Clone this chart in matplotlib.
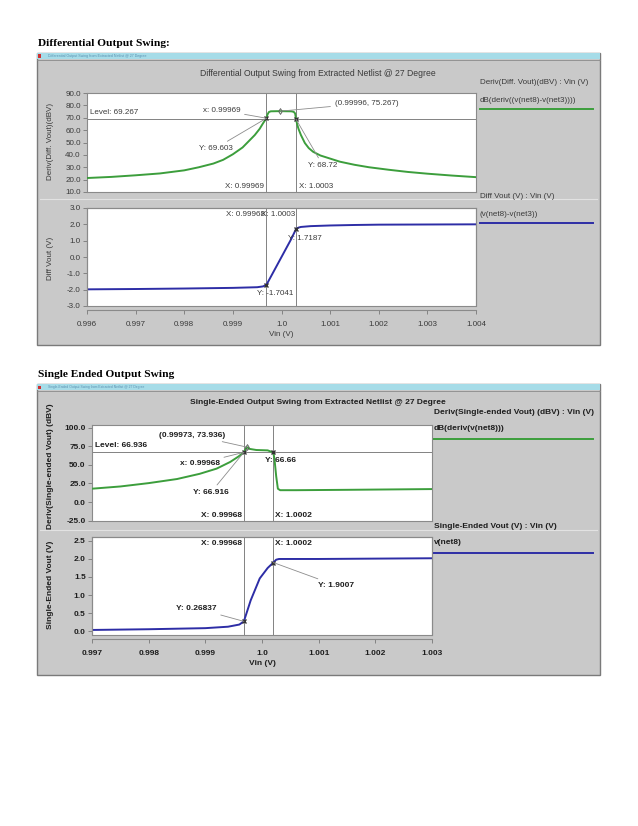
import matplotlib
matplotlib.use('Agg')
import matplotlib.pyplot as plt
from matplotlib.patches import Rectangle
from matplotlib.lines import Line2D

# ---------------- data ----------------
# Window 1: differential output swing
diff_db_x = [0.9960, 0.9965, 0.9970, 0.9975, 0.9980, 0.9983, 0.9986, 0.9988, 0.9990, 0.9992,
             0.9993, 0.99945, 0.99955, 0.99962, 0.99967, 0.99969, 0.99971, 0.99974, 0.99978,
             0.9999, 1.0000, 1.0002, 1.00025, 1.00028, 1.0003, 1.00032, 1.00035, 1.0004,
             1.00048, 1.00056, 1.00065, 1.0008, 1.0010, 1.0012, 1.0015, 1.0018, 1.0022,
             1.0026, 1.0030, 1.0035, 1.0040]
diff_db_y = [21.3, 22.2, 23.5, 25.0, 27.5, 30.0, 33.0, 36.0, 40.5, 46.0,
             50.0, 56.0, 61.0, 65.5, 68.5, 69.6, 72.5, 74.6, 75.2,
             75.3, 75.3, 75.2, 74.8, 73.5, 68.7, 65.0, 61.0, 56.0,
             49.6, 45.5, 42.5, 39.5, 37.0, 34.5, 32.0, 30.0, 28.0,
             26.2, 24.8, 23.3, 22.0]
diff_v_x = [0.9960, 0.9970, 0.9980, 0.9990, 0.9995, 0.99962, 0.99969, 0.9998, 1.0000,
            1.0002, 1.0003, 1.00035, 1.0004, 1.0006, 1.0010, 1.0015, 1.0020, 1.0030, 1.0040]
diff_v_y = [-1.98, -1.96, -1.93, -1.89, -1.85, -1.80, -1.704, -1.10, 0.00,
            1.10, 1.7187, 1.80, 1.84, 1.89, 1.93, 1.96, 1.98, 1.99, 2.00]
diff_xticks = [0.996, 0.997, 0.998, 0.999, 1.0, 1.001, 1.002, 1.003, 1.004]
diff_xticklabels = ['0.996', '0.997', '0.998', '0.999', '1.0', '1.001', '1.002', '1.003', '1.004']
diff_db_yticks = [10, 20, 30, 40, 50, 60, 70, 80, 90]
diff_v_yticks = [-3, -2, -1, 0, 1, 2, 3]
diff_cursors = [0.99969, 1.0003]
diff_level = 69.267
diff_peak = (0.99996, 75.267)
diff_db_marks = [(0.99969, 69.603), (1.0003, 68.72)]
diff_v_marks = [(0.99969, -1.7041), (1.0003, 1.7187)]

# Window 2: single-ended output swing
se_db_x = [0.9970, 0.9975, 0.9980, 0.9985, 0.9989, 0.9992, 0.99944, 0.99958, 0.99968,
           0.99973, 0.99978, 0.9999, 1.0001, 1.0002, 1.00022, 1.00025, 1.00028, 1.00032,
           1.0006, 1.0015, 1.0030]
se_db_y = [18.0, 21.0, 25.5, 31.0, 38.0, 45.0, 54.0, 61.0, 66.9,
           73.9, 71.5, 70.0, 69.5, 66.66, 58.0, 35.0, 18.0, 16.0,
           16.0, 16.5, 17.5]
se_v_x = [0.9970, 0.9980, 0.9990, 0.9994, 0.9996, 0.99968, 0.9998, 0.99996, 1.0001,
          1.0002, 1.00025, 1.0003, 1.0010, 1.0020, 1.0030]
se_v_y = [0.03, 0.05, 0.08, 0.12, 0.18, 0.268, 0.85, 1.46, 1.75,
          1.9007, 1.98, 2.00, 2.00, 2.01, 2.02]
se_xticks = [0.997, 0.998, 0.999, 1.0, 1.001, 1.002, 1.003]
se_xticklabels = ['0.997', '0.998', '0.999', '1.0', '1.001', '1.002', '1.003']
se_db_yticks = [-25, 0, 25, 50, 75, 100]
se_v_yticks = [0.0, 0.5, 1.0, 1.5, 2.0, 2.5]
se_cursors = [0.99968, 1.0002]
se_level = 66.936
se_peak = (0.99973, 73.936)
se_db_marks = [(0.99968, 66.916), (1.0002, 66.66)]
se_v_marks = [(0.99968, 0.26837), (1.0002, 1.9007)]

# ---------------- helpers ----------------
W, H = 638, 826
fig = plt.figure(figsize=(W / 100, H / 100), dpi=100)
fig.patch.set_facecolor('white')
SANS = ['Liberation Sans', 'DejaVu Sans']
SERIF = ['Liberation Serif', 'DejaVu Serif']


def fx(x):
    return x / W


def fy(y):
    return 1 - y / H


def rect(x0, y0, x1, y1, **kw):
    fig.patches.append(Rectangle((fx(x0), fy(y1)), (x1 - x0) / W, (y1 - y0) / H,
                                 transform=fig.transFigure, **kw))


def ftext(x, y, s, **kw):
    fig.text(fx(x), fy(y), s, **kw)


def fline(x0, y0, x1, y1, **kw):
    kw.setdefault('zorder', 2)
    fig.add_artist(Line2D([fx(x0), fx(x1)], [fy(y0), fy(y1)], transform=fig.transFigure, **kw))


def add_ax(l, t, r, b):
    ax = fig.add_axes([fx(l), fy(b), (r - l) / W, (b - t) / H])
    ax.set_zorder(1)
    return ax


GREEN = '#3c9e3c'
BLUE = '#2d2da6'
CURSOR = '#6e6e6e'


def window(top, bottom, sep_y):
    rect(37, top, 600, bottom, facecolor='#c9c9c9', edgecolor='#7a7a7a', lw=1.0, zorder=-3)
    rect(37, top, 600, top + 6, facecolor='#a6dce8', edgecolor='none', zorder=-2)
    fline(37, top + 6.5, 600, top + 6.5, color='#8a8a8a', lw=0.6, zorder=-1.5)
    rect(38, top + 1.5, 41, top + 4.5, facecolor='#d03030', edgecolor='none', zorder=-1)
    fline(40, sep_y, 597, sep_y, color='#e2e2e2', lw=0.8, zorder=-1.5)


def style_axes(ax, xlim, ylim, yticks, ylabfmt, bold, color, fs, show_x, xticks=None, xlabels=None):
    ax.set_xlim(*xlim)
    ax.set_ylim(*ylim)
    ax.set_facecolor('white')
    for sp in ax.spines.values():
        sp.set_color('#8a8a8a')
        sp.set_linewidth(0.8)
    weight = 'bold' if bold else 'normal'
    ax.set_yticks(yticks)
    ax.set_yticklabels([ylabfmt.format(v) for v in yticks], fontfamily=SANS,
                       fontsize=fs, color=color, fontweight=weight)
    ax.tick_params(axis='y', direction='out', length=3, width=0.6, color='#777777', pad=1.5)
    if show_x:
        ax.spines['bottom'].set_position(('outward', 3))
        ax.set_xticks(xticks)
        ax.set_xticklabels(xlabels, fontfamily=SANS, fontsize=fs, color=color, fontweight=weight)
        ax.tick_params(axis='x', direction='out', length=3, width=0.6, color='#777777', pad=5)
        ax.add_patch(Rectangle((0, 0), 1, 1, transform=ax.transAxes, fill=False,
                               edgecolor='#8a8a8a', lw=0.8, zorder=5, clip_on=False))
    else:
        ax.set_xticks([])


def ann(ax, s, xy, off, ha, va, color, fs, weight, line=True, xycoords='data'):
    kw = dict(xy=xy, xycoords=xycoords, xytext=off, textcoords='offset pixels', ha=ha, va=va,
              fontsize=fs, color=color, fontfamily=SANS, fontweight=weight, zorder=6)
    if line:
        kw['arrowprops'] = dict(arrowstyle='-', color='#8c8c8c', lw=0.6, shrinkA=1, shrinkB=0)
    ax.annotate(s, **kw)


# ======================= Window 1 =======================
C1 = '#3a3a3a'
FS1 = 5.8
ftext(38, 44, 'Differential Output Swing:', fontfamily=SERIF, fontweight='bold',
      fontsize=8.2, color='black', va='center', ha='left')
window(53, 345, 199)
ftext(48, 56, 'Differential Output Swing from Extracted Netlist @ 27 Degree', fontsize=2.6,
      color='#5a8fb0', va='center', ha='left', fontfamily=SANS)
ftext(318, 73, 'Differential Output Swing from Extracted Netlist @ 27 Degree', fontsize=6.2,
      color=C1, va='center', ha='center', fontfamily=SANS)

a1 = add_ax(87, 93, 476, 192)
style_axes(a1, (0.996, 1.004), (10, 90), diff_db_yticks, '{:.1f}', False, C1, FS1, False)
a1.plot(diff_db_x, diff_db_y, color=GREEN, lw=1.4, zorder=3)
for c in diff_cursors:
    a1.axvline(c, color=CURSOR, lw=0.6, zorder=2)
a1.axhline(diff_level, color=CURSOR, lw=0.6, zorder=2)
a1.plot(*zip(*diff_db_marks), ls='none', marker='x', ms=3, mew=1, color='#333333', zorder=4)
a1.plot([diff_peak[0]], [diff_peak[1]], ls='none', marker='d', ms=3, mfc='none', mew=0.6,
        color='#555555', zorder=4)
ann(a1, 'Level: {}'.format(diff_level), (0, diff_level), (3, 3), 'left', 'bottom', C1, FS1,
    'normal', line=False, xycoords=('axes fraction', 'data'))
ann(a1, 'x: {}'.format(diff_db_marks[0][0]), diff_db_marks[0], (-26, 8), 'right', 'center', C1, FS1, 'normal')
ann(a1, 'Y: 69.603', diff_db_marks[0], (-34, -30), 'right', 'center', C1, FS1, 'normal')
ann(a1, '({}, {})'.format(*diff_peak), diff_peak, (55, 8), 'left', 'center', C1, FS1, 'normal')
ann(a1, 'Y: 68.72', diff_db_marks[1], (12, -46), 'left', 'center', C1, FS1, 'normal')
ann(a1, 'X: 0.99969', (diff_cursors[0], 0), (-2, 2), 'right', 'bottom', C1, FS1, 'normal',
    line=False, xycoords=('data', 'axes fraction'))
ann(a1, 'X: 1.0003', (diff_cursors[1], 0), (3, 2), 'left', 'bottom', C1, FS1, 'normal',
    line=False, xycoords=('data', 'axes fraction'))
fig.text(fx(51), fy(141), 'Deriv(Diff. Vout)(dBV)', rotation=90, ha='center', va='center',
         fontsize=FS1, color=C1, fontfamily=SANS)

a2 = add_ax(87, 208, 476, 306)
style_axes(a2, (0.996, 1.004), (-3, 3), diff_v_yticks, '{:.1f}', False, C1, FS1, True,
           diff_xticks, diff_xticklabels)
a2.plot(diff_v_x, diff_v_y, color=BLUE, lw=1.4, zorder=3)
for c in diff_cursors:
    a2.axvline(c, color=CURSOR, lw=0.6, zorder=2)
a2.plot(*zip(*diff_v_marks), ls='none', marker='x', ms=3, mew=1, color='#333333', zorder=4)
ann(a2, 'X: 0.99968', (diff_cursors[0], 1), (-1, -3), 'right', 'top', C1, FS1, 'normal',
    line=False, xycoords=('data', 'axes fraction'))
ann(a2, 'X: 1.0003', (diff_cursors[1], 1), (-1, -3), 'right', 'top', C1, FS1, 'normal',
    line=False, xycoords=('data', 'axes fraction'))
ann(a2, 'Y: 1.7187', diff_v_marks[1], (-8, -10), 'left', 'center', C1, FS1, 'normal', line=False)
ann(a2, 'Y: -1.7041', diff_v_marks[0], (-9, -9), 'left', 'center', C1, FS1, 'normal', line=False)
a2.set_xlabel('Vin (V)', fontsize=FS1, color=C1, fontfamily=SANS, labelpad=2)
fig.text(fx(51), fy(258), 'Diff Vout (V)', rotation=90, ha='center', va='center',
         fontsize=FS1, color=C1, fontfamily=SANS)

# legend panel 1
ftext(480, 83, 'Deriv(Diff. Vout)(dBV) : Vin (V)', fontsize=FS1, color=C1, fontfamily=SANS, va='center')
ftext(480, 100, 'dB(deriv((v(net8)-v(net3))))', fontsize=FS1, color=C1, fontfamily=SANS, va='center')
fline(480, 109, 593, 109, color=GREEN, lw=1.4)
ftext(480, 197, 'Diff Vout (V) : Vin (V)', fontsize=FS1, color=C1, fontfamily=SANS, va='center')
ftext(480, 214, '(v(net8)-v(net3))', fontsize=FS1, color=C1, fontfamily=SANS, va='center')
fline(480, 223, 593, 223, color=BLUE, lw=1.4)

# ======================= Window 2 =======================
C2 = '#1e1e1e'
FS2 = 6.0
ftext(38, 375, 'Single Ended Output Swing', fontfamily=SERIF, fontweight='bold',
      fontsize=8.2, color='black', va='center', ha='left')
window(384, 675, 530)
ftext(48, 387, 'Single-Ended Output Swing from Extracted Netlist @ 27 Degree', fontsize=2.4,
      color='#5a8fb0', va='center', ha='left', fontfamily=SANS)
ftext(318, 403, 'Single-Ended Output Swing from Extracted Netlist @ 27 Degree', fontsize=6.0,
      color=C2, va='center', ha='center', fontfamily=SANS, fontweight='bold')

b1 = add_ax(92, 425, 432, 521)
style_axes(b1, (0.997, 1.003), (-25.4, 103.6), se_db_yticks, '{:.1f}', True, C2, FS2, False)
b1.plot(se_db_x, se_db_y, color=GREEN, lw=1.4, zorder=3)
for c in se_cursors:
    b1.axvline(c, color=CURSOR, lw=0.6, zorder=2)
b1.axhline(se_level, color=CURSOR, lw=0.6, zorder=2)
b1.plot(*zip(*se_db_marks), ls='none', marker='x', ms=3, mew=1, color='#333333', zorder=4)
b1.plot([se_peak[0]], [se_peak[1]], ls='none', marker='d', ms=3, mfc='none', mew=0.6,
        color='#555555', zorder=4)
ann(b1, 'Level: {}'.format(se_level), (0, se_level), (3, 3), 'left', 'bottom', C2, FS2,
    'bold', line=False, xycoords=('axes fraction', 'data'))
ann(b1, '({}, {})'.format(*se_peak), se_peak, (-21, 12), 'right', 'center', C2, FS2, 'bold')
ann(b1, 'x: {}'.format(se_db_marks[0][0]), se_db_marks[0], (-24, -11), 'right', 'center', C2, FS2, 'bold')
ann(b1, 'Y: 66.916', se_db_marks[0], (-15, -40), 'right', 'center', C2, FS2, 'bold')
ann(b1, 'Y: 66.66', se_db_marks[1], (-8, -8), 'left', 'center', C2, FS2, 'bold', line=False)
ann(b1, 'X: 0.99968', (se_cursors[0], 0), (-2, 2), 'right', 'bottom', C2, FS2, 'bold',
    line=False, xycoords=('data', 'axes fraction'))
ann(b1, 'X: 1.0002', (se_cursors[1], 0), (2, 2), 'left', 'bottom', C2, FS2, 'bold',
    line=False, xycoords=('data', 'axes fraction'))
fig.text(fx(51), fy(466), 'Deriv(Single-ended Vout) (dBV)', rotation=90, ha='center', va='center',
         fontsize=FS2, color=C2, fontfamily=SANS, fontweight='bold')

b2 = add_ax(92, 537, 432, 635)
style_axes(b2, (0.997, 1.003), (-0.11, 2.61), se_v_yticks, '{:.1f}', True, C2, FS2, True,
           se_xticks, se_xticklabels)
b2.plot(se_v_x, se_v_y, color=BLUE, lw=1.4, zorder=3)
for c in se_cursors:
    b2.axvline(c, color=CURSOR, lw=0.6, zorder=2)
b2.plot(*zip(*se_v_marks), ls='none', marker='x', ms=3, mew=1, color='#333333', zorder=4)
ann(b2, 'X: 0.99968', (se_cursors[0], 1), (-2, -3), 'right', 'top', C2, FS2, 'bold',
    line=False, xycoords=('data', 'axes fraction'))
ann(b2, 'X: 1.0002', (se_cursors[1], 1), (2, -3), 'left', 'top', C2, FS2, 'bold',
    line=False, xycoords=('data', 'axes fraction'))
ann(b2, 'Y: 0.26837', se_v_marks[0], (-27, 13), 'right', 'center', C2, FS2, 'bold')
ann(b2, 'Y: 1.9007', se_v_marks[1], (45, -23), 'left', 'center', C2, FS2, 'bold')
b2.set_xlabel('Vin (V)', fontsize=FS2, color=C2, fontfamily=SANS, fontweight='bold', labelpad=2)
fig.text(fx(51), fy(585), 'Single-Ended Vout (V)', rotation=90, ha='center', va='center',
         fontsize=FS2, color=C2, fontfamily=SANS, fontweight='bold')

ftext(434, 412, 'Deriv(Single-ended Vout) (dBV) : Vin (V)', fontsize=FS2, color=C2,
      fontfamily=SANS, va='center', fontweight='bold')
ftext(434, 429, 'dB(deriv(v(net8)))', fontsize=FS2, color=C2, fontfamily=SANS, va='center',
      fontweight='bold')
fline(434, 439, 593, 439, color=GREEN, lw=1.4)
ftext(434, 527, 'Single-Ended Vout (V) : Vin (V)', fontsize=FS2, color=C2, fontfamily=SANS,
      va='center', fontweight='bold')
ftext(434, 543, 'v(net8)', fontsize=FS2, color=C2, fontfamily=SANS, va='center', fontweight='bold')
fline(434, 553, 593, 553, color=BLUE, lw=1.4)

fig.savefig('out.png', dpi=100, facecolor='white')
